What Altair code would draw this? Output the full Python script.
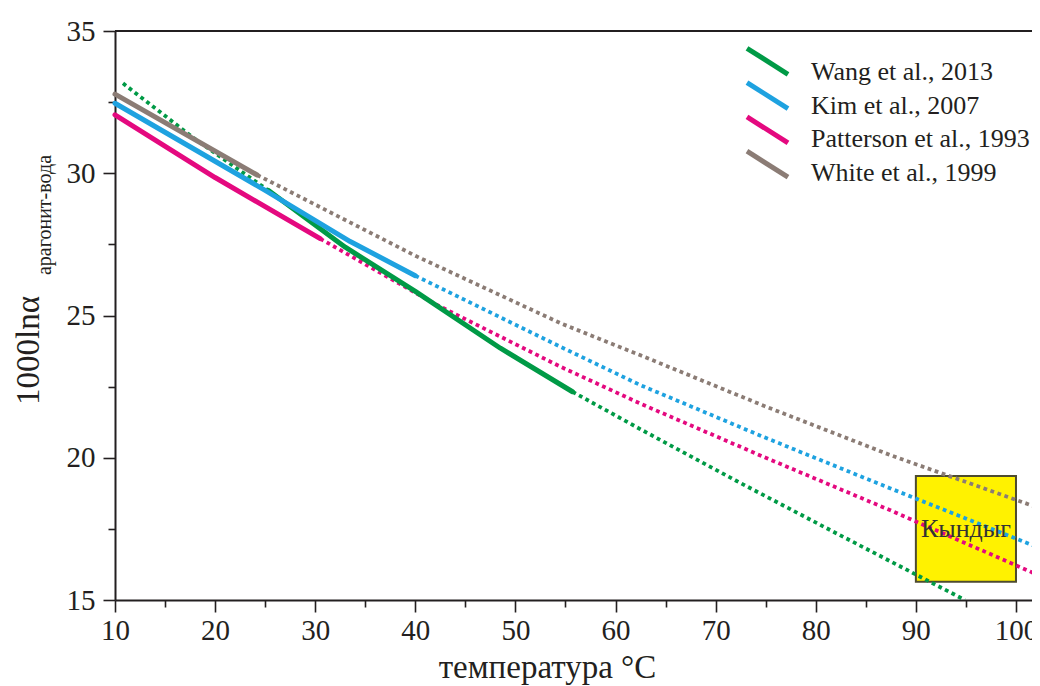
import altair as alt
import pandas as pd

# ---------------- data ----------------
series_names = ["Wang et al., 2013", "Kim et al., 2007", "Patterson et al., 1993", "White et al., 1999"]
series_colors = ["#009a46", "#1ea2e0", "#e4097f", "#8b7c75"]

# solid (measured range) segments: temperature, 1000ln(alpha)
wang_solid_t = [25.3, 33.0, 40.0, 48.5, 55.7]
wang_solid_v = [29.4, 27.4, 25.85, 23.85, 22.32]
kim_solid_t = [10.0, 25.0, 33.5, 40.0]
kim_solid_v = [32.46, 29.4, 27.6, 26.4]
patt_solid_t = [10.0, 20.0, 30.5]
patt_solid_v = [32.05, 29.85, 27.7]
white_solid_t = [10.0, 24.2]
white_solid_v = [32.78, 29.94]

# dotted (extrapolated) segments
wang_dot1_t = [10.8, 18.0, 25.3]
wang_dot1_v = [33.16, 31.2, 29.4]
wang_dot2_t = [55.7, 62.5, 72.0, 81.1, 88.5, 94.9]
wang_dot2_v = [22.32, 21.0, 19.2, 17.52, 16.17, 15.0]
kim_dot_t = [40.0, 54.5, 62.5, 75.0, 87.4, 102.4]
kim_dot_v = [26.4, 23.9, 22.55, 20.7, 18.93, 16.82]
patt_dot_t = [30.5, 42.0, 54.5, 62.5, 75.0, 87.4, 102.4]
patt_dot_v = [27.7, 25.4, 23.2, 21.9, 20.0, 18.16, 15.85]
white_dot_t = [24.2, 40.0, 54.5, 62.5, 75.0, 87.4, 102.4]
white_dot_v = [29.94, 27.1, 24.73, 23.6, 21.8, 20.1, 18.22]

# Kyndyg temperature / value box
box_t = [90.0, 100.0]
box_v = [15.64, 19.36]
box_label = "Кындыг"

x_ticks = [10, 15, 20, 25, 30, 35, 40, 45, 50, 55, 60, 65, 70, 75, 80, 85, 90, 95, 100]
y_ticks = [15, 17.5, 20, 22.5, 25, 27.5, 30, 32.5, 35]

# ---------------- tables ----------------
def seg(name, sid, ts, vs, color):
    return [{"series": name, "seg": sid, "t": t, "v": v, "col": color} for t, v in zip(ts, vs)]

solid_rows = (seg(series_names[0], "w", wang_solid_t, wang_solid_v, series_colors[0])
              + seg(series_names[1], "k", kim_solid_t, kim_solid_v, series_colors[1])
              + seg(series_names[2], "p", patt_solid_t, patt_solid_v, series_colors[2])
              + seg(series_names[3], "h", white_solid_t, white_solid_v, series_colors[3]))
dot_rows = (seg(series_names[0], "w1", wang_dot1_t, wang_dot1_v, series_colors[0])
            + seg(series_names[0], "w2", wang_dot2_t, wang_dot2_v, series_colors[0])
            + seg(series_names[1], "k", kim_dot_t, kim_dot_v, series_colors[1])
            + seg(series_names[2], "p", patt_dot_t, patt_dot_v, series_colors[2])
            + seg(series_names[3], "h", white_dot_t, white_dot_v, series_colors[3]))
solid_df = pd.DataFrame(solid_rows)
dot_df = pd.DataFrame(dot_rows)
box_df = pd.DataFrame({"t1": [box_t[0]], "t2": [box_t[1]], "v1": [box_v[0]], "v2": [box_v[1]],
                       "tm": [sum(box_t) / 2], "vm": [sum(box_v) / 2], "lab": [box_label]})
legend_df = pd.DataFrame({"label": series_names, "col": series_colors, "i": list(range(len(series_names)))})

FONT = "Liberation Serif"
INK = "#231f20"
W, H = 917, 569

xscale = alt.Scale(domain=[10, 101.6], nice=False, zero=False)
yscale = alt.Scale(domain=[15, 35], nice=False, zero=False)

xaxis = alt.Axis(
    values=x_ticks, title="температура °C",
    labelExpr="datum.value % 10 === 0 ? datum.label : ''",
    tickSize={"condition": {"test": "datum.value % 10 === 0", "value": 12}, "value": 7},
    labelFont=FONT, labelFontSize=29, labelColor=INK, labelPadding=4, labelFlush=False,
    titleFont=FONT, titleFontSize=33, titleFontWeight="normal", titleColor=INK,
    titleX=432, titleY=77, titleAnchor="start", titleAlign="center", titleBaseline="alphabetic",
    domainColor=INK, domainWidth=2, tickColor=INK, tickWidth=1.6, grid=False,
)
yaxis = alt.Axis(
    values=y_ticks, title="1000lnα",
    labelExpr="datum.value % 5 === 0 ? datum.label : ''",
    tickSize={"condition": {"test": "datum.value % 5 === 0", "value": 12}, "value": 7},
    labelFont=FONT, labelFontSize=29, labelColor=INK, labelPadding=8, labelFlush=False,
    titleFont=FONT, titleFontSize=33, titleFontWeight="normal", titleColor=INK,
    titleX=-87, titleY=319, titleAngle=270, titleAlign="center", titleBaseline="middle",
    domainColor=INK, domainWidth=2, tickColor=INK, tickWidth=1.6, grid=False,
)

box = alt.Chart(box_df).mark_rect(fill="#fff200", stroke="#4d4b2f", strokeWidth=2).encode(
    x=alt.X("t1:Q", scale=xscale, axis=xaxis),
    x2="t2:Q",
    y=alt.Y("v1:Q", scale=yscale, axis=yaxis),
    y2="v2:Q",
)

dotted = alt.Chart(dot_df).mark_line(strokeWidth=3.8, strokeDash=[3.8, 3.6], strokeCap="butt", clip=True).encode(
    x=alt.X("t:Q", scale=xscale),
    y=alt.Y("v:Q", scale=yscale),
    color=alt.Color("col:N", scale=None),
    detail="seg:N",
    order="t:Q",
)

solid = alt.Chart(solid_df).mark_line(strokeWidth=5, strokeCap="round", strokeJoin="round").encode(
    x=alt.X("t:Q", scale=xscale),
    y=alt.Y("v:Q", scale=yscale),
    color=alt.Color("series:N", scale=alt.Scale(domain=series_names, range=series_colors), legend=None),
    detail="seg:N",
    order="t:Q",
)

box_text = alt.Chart(box_df).mark_text(font=FONT, fontSize=26, color="#333333", baseline="middle", align="center").encode(
    x=alt.X("tm:Q", scale=xscale),
    y=alt.Y("vm:Q", scale=yscale),
    text="lab:N",
)

# legend (guide): diagonal key strokes and labels, stacked by entry index
legend_keys = alt.Chart(legend_df).transform_calculate(
    kx1="632", kx2="673",
    ky1="17.3 + 34.3 * datum.i", ky2="43.3 + 34.3 * datum.i",
).mark_rule(strokeWidth=5, strokeCap="butt").encode(
    x=alt.X("kx1:Q", scale=None, axis=None), x2="kx2:Q",
    y=alt.Y("ky1:Q", scale=None, axis=None), y2="ky2:Q",
    color=alt.Color("col:N", scale=None),
)
legend_labels = alt.Chart(legend_df).transform_calculate(
    lx="696", ly="49 + 33.7 * datum.i",
).mark_text(font=FONT, fontSize=26, color=INK, align="left", baseline="alphabetic").encode(
    x=alt.X("lx:Q", scale=None, axis=None),
    y=alt.Y("ly:Q", scale=None, axis=None),
    text="label:N",
)

top_border = alt.Chart(box_df).mark_rule(color=INK, strokeWidth=2).encode(
    x=alt.value(0), x2=alt.value(W), y=alt.value(0)
)

subscript = alt.Chart(box_df).mark_text(font=FONT, fontSize=20, color=INK, angle=270, align="center", baseline="middle").encode(
    x=alt.value(-70), y=alt.value(184), text=alt.value("арагонит-вода")
)

chart = alt.layer(box, dotted, solid, box_text, top_border, subscript, legend_keys, legend_labels).properties(
    width=W, height=H,
    autosize=alt.AutoSizeParams(type="none"),
    padding={"left": 107, "top": 23, "right": 0, "bottom": 90},
).configure_view(stroke=None).configure(background="white").configure_axis(
    labelFont=FONT, titleFont=FONT
).configure_text(font=FONT)

chart.save("out.html", embed_options={"renderer": "svg", "actions": False})
